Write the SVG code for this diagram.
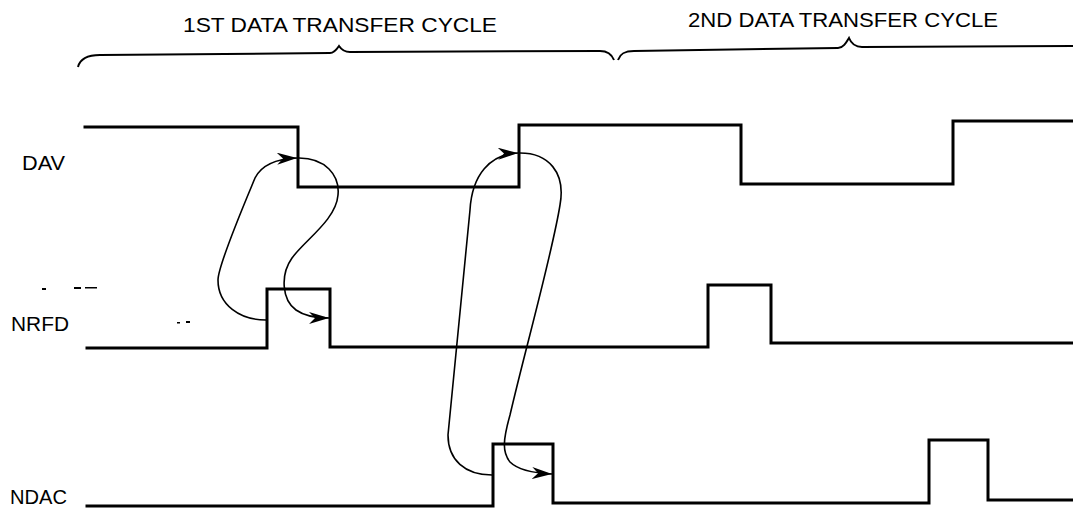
<svg xmlns="http://www.w3.org/2000/svg" width="1073" height="512" viewBox="0 0 1073 512">
<style>
.sig{fill:none;stroke:#000;stroke-width:3;stroke-linejoin:miter;stroke-linecap:square}
.brace{fill:none;stroke:#000;stroke-width:2}
.hs{fill:none;stroke:#000;stroke-width:1.6}
.lbl{font-family:"Liberation Sans",Arial,sans-serif;font-size:21px;fill:#000}
.ttl{font-family:"Liberation Sans",Arial,sans-serif;font-size:21px;fill:#000}
.noise{fill:#000}
</style>
<defs>
<marker id="ah" markerUnits="userSpaceOnUse" markerWidth="22" markerHeight="14" refX="20" refY="6" orient="auto">
<path d="M0,0 L20,6 L0,12 L6,6 Z" fill="#000"/>
</marker>
</defs>
<rect width="1073" height="512" fill="#fff"/>
<g id="title1">
<text class="ttl" x="183" y="32" textLength="314" lengthAdjust="spacingAndGlyphs">1ST DATA TRANSFER CYCLE</text>
<path class="brace" d="M78,67 C80,59 87,55 100,55 L330,53 C334,53 337,49 339,46 C341,49 344,52 350,52 L600,51 C608,51 612,55 614,60"/>
</g>
<g id="title2">
<text class="ttl" x="688" y="27" textLength="310" lengthAdjust="spacingAndGlyphs">2ND DATA TRANSFER CYCLE</text>
<path class="brace" d="M618,60 C620,54 624,51 634,51 L838,48 C843,48 846,43 849,38 C851,43 854,47 862,47 L1073,46"/>
</g>
<g id="DAV">
<text class="lbl" x="22" y="170" textLength="43" lengthAdjust="spacingAndGlyphs">DAV</text>
<path class="sig" d="M85,127 H298 V187 H519 V125 H741 V184 H953 V121 H1073"/>
</g>
<g id="NRFD">
<text class="lbl" x="11" y="331" textLength="58" lengthAdjust="spacingAndGlyphs">NRFD</text>
<path class="sig" d="M87,348 H267 V289 H330 V347 H708 V285 H771 V343 H1073"/>
</g>
<g id="NDAC">
<text class="lbl" x="10" y="504" textLength="57" lengthAdjust="spacingAndGlyphs">NDAC</text>
<path class="sig" d="M87,506 H493 V444 H553 V503 H929 V440 H988 V500 H1073"/>
</g>
<g id="connectors">
<path class="hs" marker-end="url(#ah)" d="M266,320 C240,320 218,305 218,280 C218,265 248,195 255,178 C260,168 272,159 297,158"/>
<path class="hs" marker-end="url(#ah)" d="M299,158 C325,158 340,175 338,195 C336,220 305,240 292,258 C280,275 282,300 296,310 C303,315 315,318 329,318"/>
<path class="hs" marker-end="url(#ah)" d="M492,475 C465,475 448,460 448,435 L470,210 C472,175 490,154 518,153"/>
<path class="hs" marker-end="url(#ah)" d="M520,153 C548,153 566,172 560,205 C552,255 525,350 510,415 C503,440 502,452 510,462 C518,470 532,473 552,474"/>
</g>
<g id="specks">
<rect class="noise" x="42" y="288" width="4" height="2"/>
<rect class="noise" x="74" y="287" width="7" height="2"/>
<rect class="noise" x="85" y="287" width="12" height="1.5"/>
<rect class="noise" x="177" y="322" width="3" height="1.5"/>
<rect class="noise" x="186" y="321" width="4" height="2"/>
</g>
</svg>
